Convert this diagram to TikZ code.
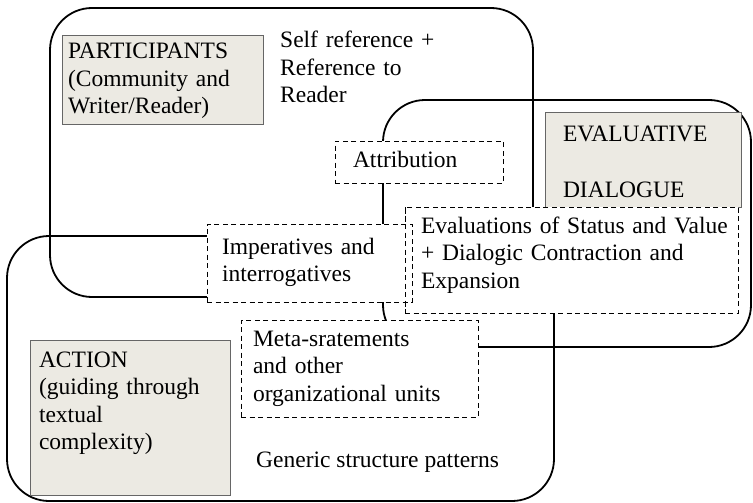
\documentclass[tikz,border=0pt]{standalone}
\usepackage{fontspec}
\setmainfont{Liberation Serif}
\definecolor{themefill}{RGB}{236,234,227}

\begin{document}
\begin{tikzpicture}[x=1pt,y=-1pt,font=\fontsize{23.5}{27.5}\selectfont]
\tikzset{
  region/.style={draw=black,line width=1.8pt,rounded corners=42pt},
  themebox/.style={draw=black!60,line width=0.9pt,fill=themefill,anchor=north west,outer sep=0pt,inner ysep=0pt,align=left},
  featurebox/.style={draw=black,line width=0.9pt,dash pattern=on 5pt off 3.5pt,fill=white,anchor=north west,outer sep=0pt,inner ysep=0pt,align=left},
  featureline/.style={draw=black,line width=0.9pt,dash pattern=on 5pt off 3.5pt},
  freelabel/.style={anchor=base west,inner sep=0pt,align=left}
}
\useasboundingbox (0,0) rectangle (753,503);
% the three overlapping regions
\draw[region] (50,8) rectangle (533,297);
\draw[region] (383,100) rectangle (751,347);
\draw[region] (7,236) rectangle (554,501);
% theme boxes
\node[themebox,inner xsep=6pt,text width=189pt,text height=24pt,text depth=65pt] (box_participants) at (62,35) {PARTICIPANTS\\(Community and\\Writer/Reader)};
\node[themebox,inner xsep=18pt,text width=160pt,text height=30pt,text depth=65pt] (box_evaluative) at (545,112) {EVALUATIVE\\[27.5pt]DIALOGUE};
\node[themebox,inner xsep=9pt,text width=182pt,text height=27pt,text depth=128pt] (box_action) at (30,340) {ACTION\\(guiding through\\textual\\complexity)};
% free labels
\node[freelabel,text width=200pt] (lbl_selfref) at (280,48) {Self reference +\\Reference to\\Reader};
\node[freelabel] (lbl_generic) at (256,467) {Generic structure patterns};
% feature boxes
\node[featurebox,inner xsep=18pt,text width=132pt,text height=26pt,text depth=16pt] (box_attribution) at (335,141) {Attribution};
\node[featurebox,inner xsep=16pt,text width=301pt,text height=26pt,text depth=80pt] (box_evaluations) at (405,207) {\mbox{Evaluations of Status and Value}\\+ Dialogic Contraction and\\Expansion};
\node[featurebox,inner xsep=15pt,text width=175pt,text height=30pt,text depth=48pt] (box_imperatives) at (207,224) {Imperatives and\\interrogatives};
\draw[featureline] (box_evaluations.north west) -- (box_evaluations.south west);
\node[featurebox,inner xsep=12pt,text width=213pt,text height=26pt,text depth=71pt] (box_meta) at (241,320) {Meta-sratements\\and other\\organizational units};
\end{tikzpicture}
\end{document}
